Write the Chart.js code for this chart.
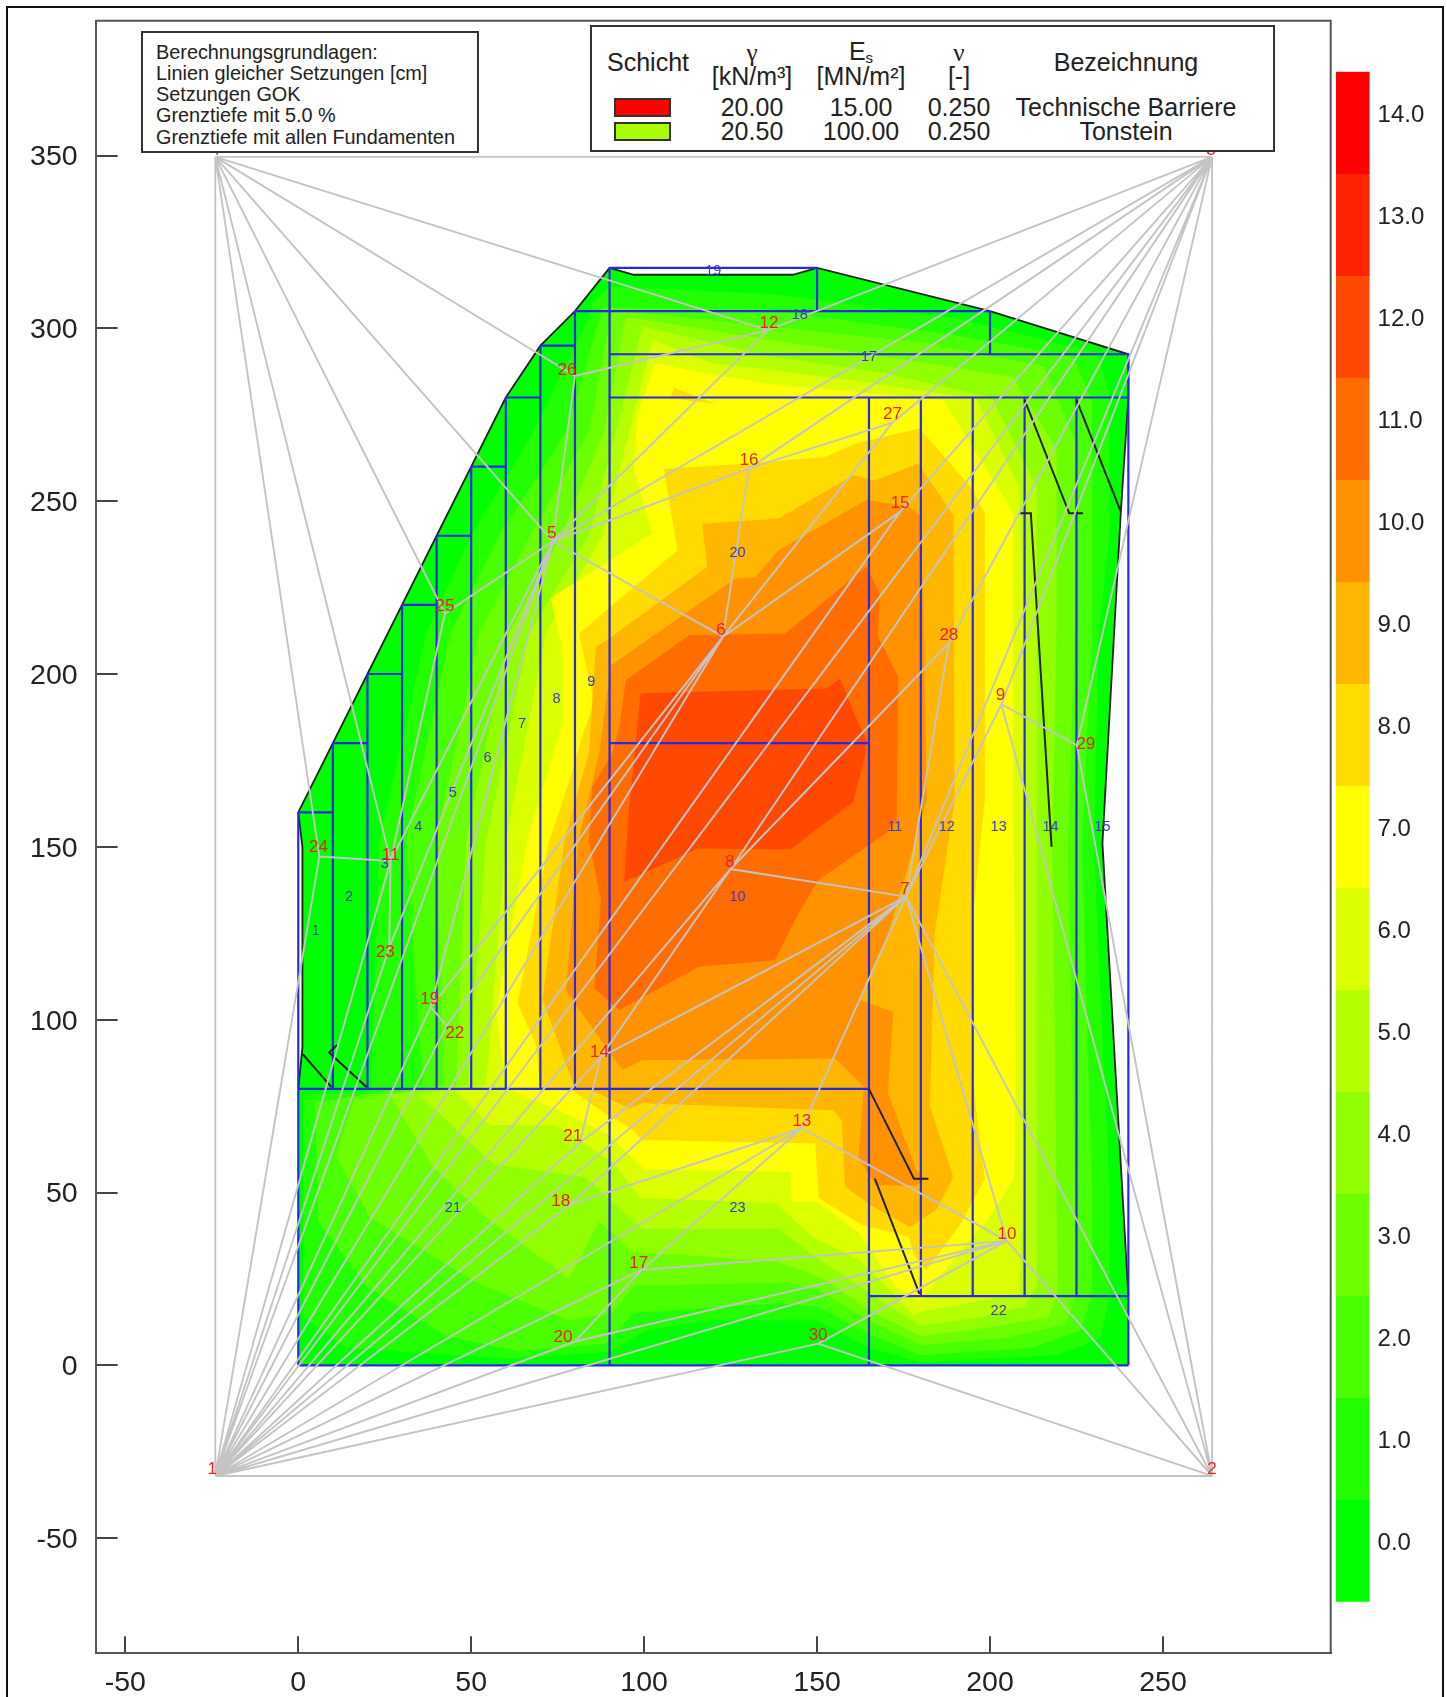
<!DOCTYPE html>
<html><head><meta charset="utf-8">
<script src="https://cdn.jsdelivr.net/npm/chart.js@4/dist/chart.umd.js"></script>
<style>
html,body{margin:0;padding:0;background:#fff;width:1447px;height:1697px;overflow:hidden;font-family:"Liberation Sans",Arial,sans-serif;color:#222}
canvas{position:absolute;left:0;top:0}
.frame{position:absolute;left:6px;top:6px;width:1438px;height:1760px;border:2px solid #111;box-sizing:border-box}
.box{position:absolute;background:#fff;border:2px solid #333;box-sizing:border-box}
.t{position:absolute;transform:translate(-50%,-50%);white-space:nowrap;font-size:25px;line-height:1}
.l{position:absolute;white-space:nowrap;font-size:19.85px;line-height:21.3px;left:156px}
.sw{position:absolute;border:2px solid #333;box-sizing:border-box}
.g{font-family:"Liberation Serif",serif}
sub{font-size:15px;vertical-align:-3px;line-height:0}
</style></head><body>
<div class="frame"></div>
<canvas id="main" width="1447" height="1697"></canvas>
<canvas id="bar" width="117" height="1697" style="left:1330px"></canvas>
<div id="overlay"></div>
<script>
// ---- axis ticks ----
const xTicks=[-50,0,50,100,150,200,250];
const yTicks=[-50,0,50,100,150,200,250,300,350];
// ---- colour scale ----
const levels=[14,13,12,11,10,9,8,7,6,5,4,3,2,1,0];
const levelColors=['#ff0000','#ff2400','#ff4900','#ff6d00','#ff9200','#ffb600','#ffdb00','#ffff00','#dbff00','#b6ff00','#92ff00','#6dff00','#49ff00','#24ff00','#00ff00'];
const barLow=[13.432,12.432,11.432,10.432,9.432,8.432,7.432,6.432,5.432,4.432,3.432,2.432,1.432,0.432,-0.568];
const barHigh=[14.432,13.432,12.432,11.432,10.432,9.432,8.432,7.432,6.432,5.432,4.432,3.432,2.432,1.432,0.432];
// ---- settlement contour regions (x,y in metres) ----
const band0=[[0,0],[240,0],[240,20],[232.5,151],[237.8,246.5],[240,280],[240,292.5],[200,305],[150,317.5],[143,315.5],[97,315.5],[90,317.5],[80,305],[70,295],[60,280],[50,260],[40,240],[30,220],[20,200],[10,180],[0,160],[1.2,150],[1.2,92],[0,80]];
const band1=[[21,80.5],[23.5,152],[37,212],[50,240],[68,270],[84,303],[85,307.5],[90,312],[136,310],[190,303],[231,292.8],[234.5,281],[234.5,240],[231.5,212],[230,150],[234.5,52],[234.5,20],[232,8],[220,3],[180,0.8],[165,5],[150,13],[118,13],[100,10],[90.8,4],[62,1.9],[14,5],[1.5,14],[1.5,78],[21,79.5]];
const band2=[[36,81],[31.2,152],[44,212],[58,240],[77.4,270],[88,306],[136,305.3],[190,298],[224,291.8],[229.5,279],[229.5,212],[226.5,150],[229.5,52],[229.5,20],[226,10],[212,5],[180,3],[165,9],[150,17],[138.9,18],[97,15.2],[88.9,6.3],[64,4],[42.8,8.5],[19.7,22.9],[5.8,41.7],[4.8,76],[20,78.5]];
const band3=[[42,81],[39.9,152],[52.4,212],[67,240],[84,270],[90.8,305.3],[136,300.5],[180,296],[215.5,289],[224.5,267.7],[224.5,212],[222.5,150],[224.5,52],[224.5,20],[222,12],[205,8],[180,5.8],[165,13],[150,22],[138.9,24],[97,23],[90.8,15.2],[78.3,13],[51.4,24],[20.7,42.8],[11,60.5],[16,77]];
const band4=[[45.7,81],[48.5,152],[61,212],[76,240],[88.4,270],[94.7,303.4],[136,296.7],[175,291],[206.5,286],[219.2,265],[219.2,212],[218,150],[219.2,52],[219.5,21],[217,14],[200,11],[180,8.5],[165,16],[152,25],[138.9,30],[96.6,32.9],[87,41.7],[78.3,25.1],[54.3,42.8],[39.2,57.2],[26.4,78.3]];
const band5=[[49,81],[54.3,152],[66.8,212],[84,240],[91.8,270],[99.5,300.5],[136,292],[170,287],[200.5,280],[213.5,254],[213.5,163],[213.5,60],[213.5,23],[210,17],[197,14],[180,11.3],[165,21],[150,31],[138.9,39.5],[99.5,39.5],[90.8,47.3],[82.7,54.5],[64,57.2],[56.2,58.3],[35,78.3]];
const band6=[[54.3,81],[60,152],[71.6,212],[88,240],[95.6,269.6],[102.4,296.6],[119.6,289.9],[136,288],[160,285],[196,279.6],[208.5,254],[210,212],[210,60],[208.5,20.7],[181,15.7],[177.8,14.6],[172,20.7],[162,30.7],[148.5,37.3],[138,47],[99,48.4],[90.8,58.9],[74.5,69.4],[55.3,69.6],[45.7,79.4]];
const band7=[[60,80],[57.2,102.6],[66.3,152.4],[69.7,163.6],[76.4,186],[76.4,207],[73,222],[102.4,240.7],[97,259],[98,275],[103.3,290],[120,286.5],[136,284],[186.5,279.3],[198.5,260],[206.7,246.5],[206.7,163],[207.5,86],[207,54],[199,41.7],[190.5,31.8],[181.5,20.7],[179.5,18.5],[172.5,22.9],[162,38.4],[150,47.3],[142.7,47.3],[142.3,56],[100,56.7],[89.9,66.6],[75.4,73.8]];
const band8=[[70,80],[68.7,92.7],[63.4,104.8],[72.6,152],[76.4,163],[79.3,172],[82,181.8],[85.5,191.5],[81.2,211.7],[109.6,235.8],[105.7,259.4],[130,260.9],[152.3,262.8],[161,266.7],[179.6,271],[194.5,254],[198.5,246.5],[198.5,163.6],[195,130],[194.5,86],[198.5,54],[191.3,40.6],[181.5,27.5],[178,32],[176.4,37.3],[162.9,40.6],[150.4,48.4],[149.5,64.2],[99.5,65.2],[95.6,68.9],[88.9,72.7],[79.3,79.4]];
const band8b=[[108.6,282.9],[114.9,280.2],[121,278.1],[107.6,279.8]];
const band9=[[80,80],[70.6,105.9],[77,152],[84,177],[86,207.8],[89.9,210.3],[118.2,231],[116.8,243.5],[138.9,245],[160.5,257.5],[166.8,256],[179.2,260.9],[189.4,245.9],[189.8,163.6],[187.9,150.9],[184,124.9],[182.6,75],[189.4,54.5],[184.5,45],[176.9,40],[165.8,46.2],[158.1,51.7],[157.1,71],[154.7,73.8],[99.5,75.8],[95.6,74.3],[85,79.6]];
const band10=[[77.4,108.2],[81,152],[87,177],[90.4,202.5],[126.4,227.6],[132,228],[138.9,235.9],[164.4,250.4],[176.3,248.4],[179.7,246],[180.7,221.4],[181.7,163.6],[176.8,146.1],[170.5,124.9],[164.4,111.4],[162.4,105.7],[172,102.3],[170.5,78.7],[178.7,56.5],[181,54],[178.5,52],[167,52],[162,60],[163.5,80.5],[155.2,88.8],[99.5,88.3],[93.7,85.4]];
const band11=[[113,211.2],[140.8,211.7],[164.3,231],[168.1,223.3],[167.6,210.7],[173.5,199.2],[173,157.7],[170,153.9],[150.4,140.4],[144.6,130.7],[137.8,117.2],[115.8,115.3],[92.8,102.8],[85.6,109],[87.5,134.6],[84,152],[85,167.4],[90.8,177],[92.8,184.7],[94.7,198.2]];
const band12=[[99,194.4],[152.7,195.8],[156.6,198.7],[162,185.7],[164.3,180.8],[163.8,176],[160.4,163],[142.2,149.2],[115.8,149.5],[94.2,139.9],[95.5,160]];
// ---- block outlines, discontinuity lines (x1,y1,x2,y2) ----
const blockLines=[[0,0,240,0],[0,0,0,160],[0,160,10,160],[0,80,165,80],[10,80,10,180],[10,180,20,180],[20,80,20,200],[20,200,30,200],[30,80,30,220],[30,220,40,220],[40,80,40,240],[40,240,50,240],[50,80,50,260],[50,260,60,260],[60,80,60,280],[60,280,70,280],[70,80,70,295],[70,295,80,295],[80,80,80,305],[80,305,200,305],[200,305,200,292.5],[90,0,90,317.5],[90,317.5,150,317.5],[150,317.5,150,305],[90,292.5,240,292.5],[90,280,240,280],[90,180,165,180],[165,0,165,280],[180,20,180,280],[195,20,195,280],[210,20,210,280],[225,20,225,280],[240,0,240,292.5],[165,20,240,20]];
const outlineTop=[[0,160],[10,180],[20,200],[30,220],[40,240],[50,260],[60,280],[70,295],[80,305],[90,317.5],[97,315.5],[143,315.5],[150,317.5],[200,305],[240,292.5],[240,280],[237.8,246.5],[232.5,151],[240,20]];
const outlineLeft=[[0,160],[1.2,150],[1.2,92],[0,80]];
const crackA=[[210,279.3],[222.9,246.5],[226.9,246.5]];
const crackB=[[225,279.3],[237.8,247]];
const crackC=[[208.3,246.5],[211.8,246.5],[217.8,150]];
const crackD=[[165,79.9],[178,54],[182.2,54]];
const crackE=[[166.7,54],[179.6,20.7]];
const crackF=[[1.3,90],[9.6,80.5]];
const crackG=[[11.2,92.7],[8.9,90.5],[19.7,80.5]];
// ---- triangulation nodes: number -> [x,y] ----
const nodeX=[-24,264.2,264.2,-24,73.6,122.8,175.7,125,203.3,204.9,26.7,135.8,145.6,87.4,174,130.3,99.3,78.5,38.3,80,81.4,42.9,26.3,6.1,42.4,80,171.8,188.1,225.1,150.3];
const nodeY=[-32,-32,349.6,349.6,238.4,210.8,135.6,143.6,191.2,36,145.9,299.5,68.6,89.1,246.9,259.5,27.6,46.4,103.7,6.9,64.4,98.2,120.9,147.2,217.5,286.2,272.7,208.9,179.4,6.3];
const labelDx=[-3,0,-1,0,-1,-2,-1,-1,-1,0,0,1,0,-1,0,0,-3,-9,-1,-12,-7,8,-4,-1,0,-8,0,0,9,0];
const labelDy=[-7,-7,-7,-7,-8,-6,-7,-7,-9,-7,-6,-7,-7,-5,-9,-8,-7,-4,-7.6,-4,-6.5,7.6,5,-9,-7,-6,-8,-8,-1,-8];
const meshEdges=[[1,2],[1,4],[2,3],[3,4],[1,3],
[4,24],[4,11],[4,25],[4,5],[4,26],[4,12],
[1,24],[1,11],[1,23],[1,19],[1,22],[1,5],[1,6],[1,8],[1,15],[1,14],[1,21],[1,7],[1,13],[1,18],[1,17],[1,20],[1,10],[1,30],
[2,29],[2,9],[2,7],[2,10],[2,30],
[3,12],[3,5],[3,16],[3,27],[3,15],[3,8],[3,28],[3,9],[3,7],[3,29],
[5,26],[26,12],[12,5],[5,16],[5,25],[5,6],[5,11],[5,23],[5,19],
[25,11],[24,11],[11,23],[19,22],
[16,6],[16,27],[6,15],[6,27],[6,19],[6,22],
[8,7],[8,14],[8,28],[28,7],[9,7],[9,29],
[7,14],[7,21],[7,18],[7,10],[7,13],
[13,18],[13,17],[13,10],[14,21],[17,10],[17,20],[20,10],[30,10]];
// ---- numbered labels ----
const zoneIds=[1,2,3,4,5,6,7,8,9,10,20,11,12,13,14,15,17,18,19,21,22,23];
const zoneX=[5,14.7,25,34.7,44.7,54.7,64.7,74.7,84.7,127,127,172.5,187.5,202.5,217.5,232.5,165,145,120,44.7,202.5,127];
const zoneY=[125.6,135.6,145,155.6,165.6,175.6,185.6,192.8,197.8,135.6,235,155.6,155.6,155.6,155.6,155.6,291.6,304,316.6,45.6,15.6,45.6];
// ---- text panels ----
const basisLines=['Berechnungsgrundlagen:','Linien gleicher Setzungen [cm]','Setzungen GOK','Grenztiefe mit 5.0 %','Grenztiefe mit allen Fundamenten'];
const layerGamma=['20.00','20.50'];
const layerEs=['15.00','100.00'];
const layerNu=['0.250','0.250'];
const layerName=['Technische Barriere','Tonstein'];
const layerColor=['#ff0000','#a8ff00'];

const toPts=a=>a.map(p=>({x:p[0],y:p[1]}));
const poly=(arr,col)=>({data:toPts(arr),showLine:true,fill:'shape',backgroundColor:col,borderColor:col,borderWidth:0,pointRadius:0});
const segs=list=>{const o=[];list.forEach(s=>{o.push({x:s[0],y:s[1]},{x:s[2],y:s[3]},{x:NaN,y:NaN});});return o;};
const lineDs=(pts,col,w)=>({data:pts,showLine:true,fill:false,borderColor:col,borderWidth:w,pointRadius:0,spanGaps:false});
const colorOf=l=>levelColors[levels.indexOf(l)];
const layers=[
 poly(band0,colorOf(0)),poly(band1,colorOf(1)),poly(band2,colorOf(2)),poly(band3,colorOf(3)),poly(band4,colorOf(4)),poly(band5,colorOf(5)),poly(band6,colorOf(6)),poly(band7,colorOf(7)),poly(band8,colorOf(8)),poly(band8b,colorOf(8)),poly(band9,colorOf(9)),poly(band10,colorOf(10)),poly(band11,colorOf(11)),poly(band12,colorOf(12)),
 lineDs(toPts(outlineTop),'#222',1.8),lineDs(toPts(outlineLeft),'#222',1.8),
 lineDs(segs(blockLines),'#2a2ae6',2.2),
 lineDs(toPts(crackA),'#222',2),lineDs(toPts(crackB),'#222',2),lineDs(toPts(crackC),'#222',2),lineDs(toPts(crackD),'#222',2),lineDs(toPts(crackE),'#222',2),lineDs(toPts(crackF),'#222',2),lineDs(toPts(crackG),'#222',2),
 lineDs(segs(meshEdges.map(e=>[nodeX[e[0]-1],nodeY[e[0]-1],nodeX[e[1]-1],nodeY[e[1]-1]])),'#c4c4c4',1.9)
];
layers.forEach((d,i)=>{d.order=1000-i;});

const annot={id:'annot',
 beforeDatasetsDraw(c){const a=c.chartArea,x=c.ctx;x.save();x.strokeStyle='#555';x.lineWidth=2;x.beginPath();x.moveTo(a.left,a.top);x.lineTo(a.right,a.top);x.lineTo(a.right,a.bottom);x.stroke();x.restore();},
 afterDatasetsDraw(c){const x=c.ctx,sx=c.scales.x,sy=c.scales.y;x.save();x.textAlign='center';x.textBaseline='middle';
  x.font='14.5px "Liberation Sans"';x.fillStyle='#3a3ac8';
  zoneIds.forEach((n,i)=>x.fillText(String(n),sx.getPixelForValue(zoneX[i]),sy.getPixelForValue(zoneY[i])));
  x.font='17px "Liberation Sans"';x.fillStyle='#ee2222';
  nodeX.forEach((v,i)=>x.fillText(String(i+1),sx.getPixelForValue(v)+labelDx[i],sy.getPixelForValue(nodeY[i])+labelDy[i]));
  x.restore();}
};
const noPad=s=>{s.paddingTop=0;s.paddingBottom=0;s.paddingLeft=0;s.paddingRight=0;};
const tickColor='#444';
new Chart(document.getElementById('main'),{type:'scatter',data:{datasets:layers},plugins:[annot],
 options:{responsive:false,animation:false,devicePixelRatio:1,
  layout:{padding:{top:20.7,right:1447-1330.7,left:0,bottom:0}},
  plugins:{legend:{display:false},tooltip:{enabled:false},filler:{drawTime:'beforeDatasetDraw',propagate:false}},
  scales:{
   x:{type:'linear',min:-58.6,max:298.5,
    afterFit:s=>{s.height=1697-1653.3;noPad(s);},
    afterBuildTicks:s=>{s.ticks=xTicks.map(v=>({value:v}));},
    border:{display:true,color:'#555',width:2},
    grid:{drawOnChartArea:false,drawTicks:true,tickLength:-17,color:tickColor,lineWidth:2},
    ticks:{padding:30,maxRotation:0,autoSkip:false,color:'#222',font:{family:'"Liberation Sans"',size:28.5},callback:v=>String(v)}},
   y:{type:'linear',min:-83.3,max:389,
    afterFit:s=>{s.width=95.6;noPad(s);},
    afterBuildTicks:s=>{s.ticks=yTicks.map(v=>({value:v}));},
    border:{display:true,color:'#555',width:2},
    grid:{drawOnChartArea:false,drawTicks:true,tickLength:-22,color:tickColor,lineWidth:2},
    ticks:{padding:40,labelOffset:2,autoSkip:false,color:'#222',font:{family:'"Liberation Sans"',size:28.5},callback:v=>String(v)}}
  }}});
// colour bar
new Chart(document.getElementById('bar'),{type:'bar',
 data:{labels:['s'],datasets:levels.map((l,i)=>({data:[[barLow[i],barHigh[i]]],backgroundColor:levelColors[i],borderWidth:0,barPercentage:1,categoryPercentage:1,grouped:false}))},
 options:{responsive:false,animation:false,devicePixelRatio:1,
  layout:{padding:{top:71.7,bottom:1697-1601.7,left:6,right:0}},
  plugins:{legend:{display:false},tooltip:{enabled:false}},
  scales:{
   x:{display:false,stacked:false},
   y:{position:'right',min:-0.568,max:14.432,
    afterFit:s=>{s.width=117-39.6;noPad(s);},
    afterBuildTicks:s=>{s.ticks=levels.map(v=>({value:v}));},
    border:{display:false},grid:{display:false,drawTicks:false},
    ticks:{padding:8,color:'#222',autoSkip:false,font:{family:'"Liberation Sans"',size:24},callback:v=>Number(v).toFixed(1)}}
  }}});
// panels
const ov=document.getElementById('overlay');
const add=(cls,css,html)=>{const e=document.createElement('div');e.className=cls;e.style.cssText=css;e.innerHTML=html||'';ov.appendChild(e);return e;};
add('box','left:141px;top:31px;width:338px;height:122px');
basisLines.forEach((s,i)=>add('l','top:'+(41.5+i*21.3)+'px',s));
add('box','left:590px;top:25px;width:685px;height:127px');
const cols=[752,861,959,1126];
add('t','left:648px;top:62px','Schicht');
add('t g','left:752px;top:52px','γ');add('t','left:752px;top:76px','[kN/m³]');
add('t','left:861px;top:51px','E<sub>s</sub>');add('t','left:861px;top:76px','[MN/m²]');
add('t g','left:959px;top:52px','ν');add('t','left:959px;top:76px','[-]');
add('t','left:1126px;top:62px','Bezeichnung');
[107,131].forEach((y,i)=>{
 add('sw','left:614px;top:'+(y-9)+'px;width:57px;height:19px;background:'+layerColor[i]);
 add('t','left:'+cols[0]+'px;top:'+y+'px',layerGamma[i]);
 add('t','left:'+cols[1]+'px;top:'+y+'px',layerEs[i]);
 add('t','left:'+cols[2]+'px;top:'+y+'px',layerNu[i]);
 add('t','left:'+cols[3]+'px;top:'+y+'px',layerName[i]);
});
</script>
</body></html>
